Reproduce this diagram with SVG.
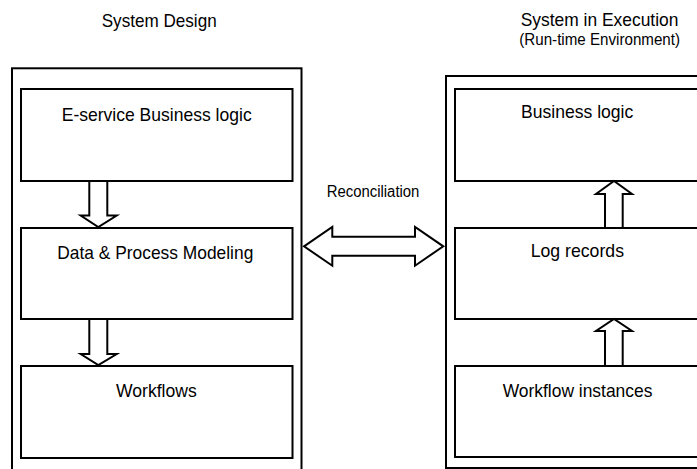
<svg xmlns="http://www.w3.org/2000/svg" width="697" height="469" viewBox="0 0 697 469">
  <style>
    .frame { fill: none; stroke: #000; stroke-width: 2; }
    .box { fill: #fff; stroke: #000; stroke-width: 2; }
    .arrow { fill: #fff; stroke: #000; stroke-width: 2; stroke-linejoin: miter; }
    .lbl { font-family: "Liberation Sans", Arial, sans-serif; font-size: 19px; fill: #000; }
    .sm { font-size: 16px; }
  </style>
  <rect width="697" height="469" fill="#fff"/>

  <!-- Column headings -->
  <g id="heading-design">
    <text class="lbl" x="101.7" y="27.3" textLength="115" lengthAdjust="spacingAndGlyphs">System Design</text>
  </g>
  <g id="heading-execution">
    <text class="lbl" x="520.7" y="26" textLength="157.7" lengthAdjust="spacingAndGlyphs">System in Execution</text>
    <text class="lbl sm" x="519.3" y="45" textLength="160.7" lengthAdjust="spacingAndGlyphs">(Run-time Environment)</text>
  </g>

  <!-- Outer frames -->
  <g id="frame-design">
    <rect class="frame" x="12" y="68.3" width="289.5" height="420"/>
  </g>
  <g id="frame-execution">
    <rect class="frame" x="446" y="76" width="270" height="392"/>
  </g>

  <!-- Design side -->
  <g id="node-eservice">
    <rect class="box" x="21" y="89" width="271.5" height="92"/>
    <text class="lbl" x="61.7" y="120.5" textLength="190" lengthAdjust="spacingAndGlyphs">E-service Business logic</text>
  </g>
  <g id="node-modeling">
    <rect class="box" x="21" y="228" width="271.5" height="91"/>
    <text class="lbl" x="57.3" y="259.3" textLength="196" lengthAdjust="spacingAndGlyphs">Data &amp; Process Modeling</text>
  </g>
  <g id="node-workflows">
    <rect class="box" x="21" y="366" width="271.5" height="92"/>
    <text class="lbl" x="116" y="396.7" textLength="80.7" lengthAdjust="spacingAndGlyphs">Workflows</text>
  </g>

  <!-- Execution side -->
  <g id="node-business">
    <rect class="box" x="455" y="89" width="260" height="92"/>
    <text class="lbl" x="521" y="118.3" textLength="112.3" lengthAdjust="spacingAndGlyphs">Business logic</text>
  </g>
  <g id="node-log">
    <rect class="box" x="455" y="228" width="260" height="91"/>
    <text class="lbl" x="530.7" y="256.7" textLength="93.3" lengthAdjust="spacingAndGlyphs">Log records</text>
  </g>
  <g id="node-instances">
    <rect class="box" x="455" y="366" width="260" height="91"/>
    <text class="lbl" x="502.7" y="396.7" textLength="149.7" lengthAdjust="spacingAndGlyphs">Workflow instances</text>
  </g>

  <!-- Block arrows -->
  <g id="connectors">
    <polygon class="arrow" points="89.3,181 107.3,181 107.3,215.5 116.7,215.5 98.3,227 80.7,215.5 89.3,215.5"/>
    <polygon class="arrow" points="89.3,319 107.3,319 107.3,354 116.7,354 98.3,365 80.7,354 89.3,354"/>
    <polygon class="arrow" points="605,228 622.7,228 622.7,194 632,194 614,181 596,194 605,194"/>
    <polygon class="arrow" points="605,366 622.7,366 622.7,331 632,331 614,319 596,331 605,331"/>
    <polygon class="arrow" points="304,246.3 332.3,227 332.3,236.7 415,236.7 415,227 443.3,246.3 415,265.7 415,255.7 332.3,255.7 332.3,265.7"/>
    <text class="lbl sm" x="326.7" y="197.3" textLength="92.7" lengthAdjust="spacingAndGlyphs">Reconciliation</text>
  </g>
</svg>
